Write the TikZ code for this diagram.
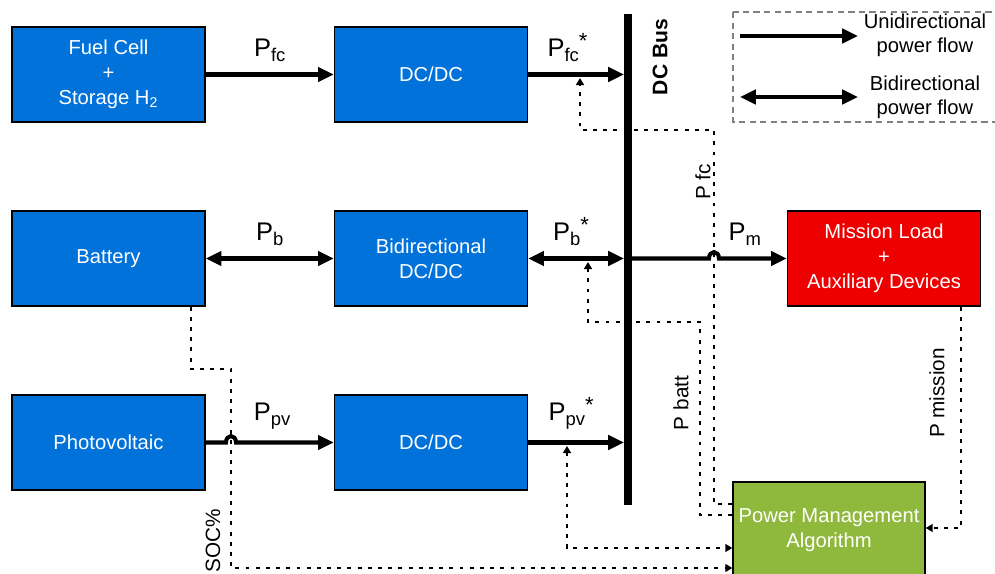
\documentclass[tikz,border=0pt]{standalone}
\usepackage{fontspec}
\setmainfont{Liberation Sans}
\usetikzlibrary{arrows.meta}

\definecolor{boxblue}{RGB}{0,114,218}
\definecolor{loadred}{RGB}{238,0,0}
\definecolor{pmagreen}{RGB}{143,185,60}

\tikzset{
  block/.style={draw=black, line width=0.8pt, fill=boxblue, text=white,
    minimum width=3.86cm, minimum height=1.9cm, align=center, inner sep=0pt,
    font=\fontsize{11.5}{14.2}\selectfont},
  power/.style={line width=2.3pt, -{Triangle[length=9pt,width=8pt]}},
  bipower/.style={line width=2.3pt,
    {Triangle[length=9pt,width=8pt]}-{Triangle[length=9pt,width=8pt]}},
  ctrl/.style={line width=1.1pt, dash pattern=on 2.2pt off 3.6pt},
  ctrltip/.style={-{Triangle[length=4pt,width=4.5pt]}},
  lbl/.style={font=\fontsize{11.8}{14}\selectfont},
}
\newcommand{\pw}[2]{{\fontsize{14.5}{16}\selectfont P}\raisebox{-0.5ex}{\fontsize{10.5}{12}\selectfont #1}\raisebox{0.9ex}{\fontsize{12.5}{12}\selectfont #2}}

\begin{document}
\begin{tikzpicture}[x=0.02cm, y=-0.02cm]
\useasboundingbox (0,0) rectangle (995,574);
\clip (0,0) rectangle (995,574);

  % Sources and converters
  \node[block] (fc)  at (108.5,74.5)  {Fuel Cell\\+\\Storage H\textsubscript{2}};
  \node[block] (dca) at (431,74.5)    {DC/DC};
  \node[block] (bat) at (108.5,258.5) {Battery};
  \node[block] (dcb) at (431,258.5)   {Bidirectional\\DC/DC};
  \node[block] (pv)  at (108.5,442.5) {Photovoltaic};
  \node[block] (dcc) at (431,442.5)   {DC/DC};

  % Load and controller
  \node[block, fill=loadred] (load) at (884,258.5) {Mission Load\\+\\Auxiliary Devices};
  \node[block, fill=pmagreen, minimum width=3.84cm, minimum height=1.92cm] (pma)
    at (829,530) {Power Management\\Algorithm};

  % DC bus
  \coordinate (bustop) at (628,14);
  \coordinate (busbot) at (628,505);
  \draw[line width=4.5pt] (bustop) -- (busbot);
  \node[lbl, font=\fontsize{12}{14}\selectfont\bfseries, rotate=90] (buslbl) at (660,57) {DC Bus};

  % Power flows
  \draw[power] (fc.east) -- node[above=3pt] {\pw{fc}{}} (dca.west);
  \draw[power, shorten >=2.25pt] (dca.east) -- node[above=3pt, xshift=-6pt] {\pw{fc}{*}} (dca.east -| bustop);
  \draw[bipower] (bat.east) -- node[above=3pt] {\pw{b}{}} (dcb.west);
  \draw[bipower, shorten >=2.25pt] (dcb.east) -- node[above=3pt, xshift=-4pt] {\pw{b}{*}} (dcb.east -| bustop);
  \draw[power] (dcb.east -| bustop) -- (709,258.5) .. controls (709,250) and (719,250) .. (719,258.5)
    -- node[above=3pt, pos=0.38] {\pw{m}{}} (load.west);
  \draw[power] (pv.east) -- (226,442.5) .. controls (226,434) and (236,434) .. (236,442.5)
    -- node[above=3pt, pos=0.37] {\pw{pv}{}} (dcc.west);
  \draw[power, shorten >=2.25pt] (dcc.east) -- node[above=3pt, xshift=-4pt] {\pw{pv}{*}} (dcc.east -| bustop);

  % Measurement and control signals
  \coordinate (tfc) at (580,78);
  \coordinate (tb)  at (588,262);
  \coordinate (tpv) at (567,446);
  \coordinate (in1) at (pma.west |- 0,504);
  \coordinate (in2) at (pma.west |- 0,515);
  \coordinate (in3) at (pma.west |- 0,548);
  \coordinate (in4) at (pma.west |- 0,568);
  \coordinate (soc) at (bat.south -| 191,0);
  \coordinate (mis) at (load.south -| 961,0);

  \draw[ctrl, ctrltip] (in1) -| (714,130) -| (tfc);
  \draw[ctrl, ctrltip] (in2) -| (700,322) -| (tb);
  \draw[ctrl, {Triangle[length=4pt,width=4.5pt]}-{Triangle[length=4pt,width=4.5pt]}] (tpv) |- (in3);
  \draw[ctrl, ctrltip] (soc) |- (231,369) |- (in4);
  \draw[ctrl, ctrltip] (mis) |- (pma.east |- 0,528);

  \node[lbl, rotate=90] (pfclbl)  at (703,182) {P fc};
  \node[lbl, rotate=90] (pbatlbl) at (681,403) {P batt};
  \node[lbl, rotate=90] (pmislbl) at (937,393) {P mission};
  \node[lbl, rotate=90] (soclbl)  at (213,541) {SOC\%};

  % Legend
  \draw[gray, line width=0.6pt, dash pattern=on 3.5pt off 2.5pt] (733,12) rectangle (1000,122);
  \coordinate (lu1) at (740,36);
  \coordinate (lu2) at (858,36);
  \coordinate (lb1) at (740,97);
  \coordinate (lb2) at (858,97);
  \draw[power] (lu1) -- (lu2);
  \draw[bipower] (lb1) -- (lb2);
  \node[lbl, align=center, font=\fontsize{11.5}{13.6}\selectfont] (uni) at (925,35) {Unidirectional\\power flow};
  \node[lbl, align=center, font=\fontsize{11.5}{13.6}\selectfont] (bi)  at (925,97) {Bidirectional\\power flow};
\end{tikzpicture}
\end{document}
